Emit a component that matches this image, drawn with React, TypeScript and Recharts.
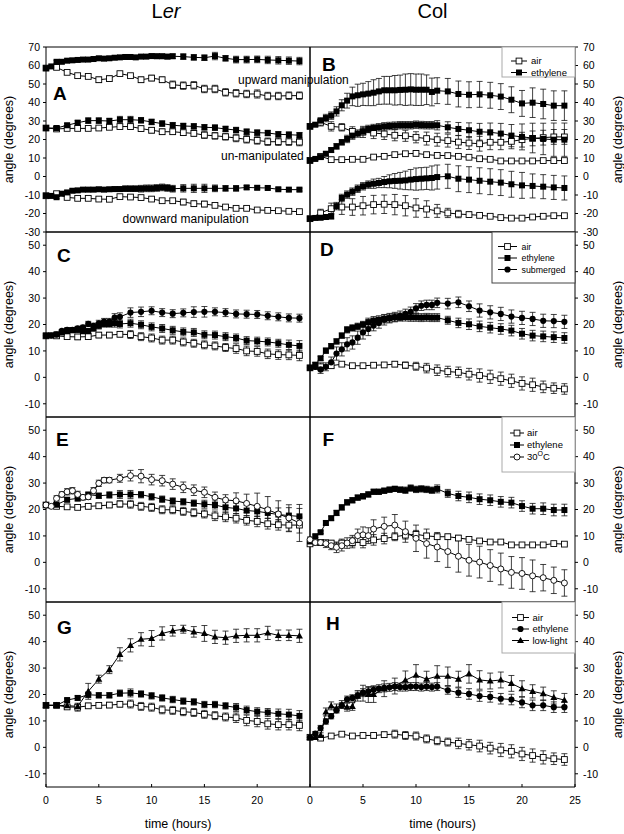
import React from 'react';
import { LineChart, Line, XAxis, YAxis, ErrorBar, ReferenceArea } from 'recharts';

// sampling times (hours)
const HOURS = [0, 1, 2, 3, 4, 5, 6, 7, 8, 9, 10, 11, 12, 13, 14, 15, 16, 17, 18, 19, 20, 21, 22, 23, 24];
const HALF12 = [0, 0.5, 1, 1.5, 2, 2.5, 3, 3.5, 4, 4.5, 5, 5.5, 6, 6.5, 7, 7.5, 8, 8.5, 9, 9.5, 10, 10.5, 11, 11.5, 12,
  13, 14, 15, 16, 17, 18, 19, 20, 21, 22, 23, 24];
const HALF7 = [0, 0.5, 1, 1.5, 2, 2.5, 3, 3.5, 4, 4.5, 5, 5.5, 6, 6.5, 7,
  8, 9, 10, 11, 12, 13, 14, 15, 16, 17, 18, 19, 20, 21, 22, 23, 24];
const HALF6 = [0, 0.5, 1, 1.5, 2, 2.5, 3, 3.5, 4, 4.5, 5, 5.5, 6,
  7, 8, 9, 10, 11, 12, 13, 14, 15, 16, 17, 18, 19, 20, 21, 22, 23, 24];

// A – Ler, manipulated
const A_UP_AIR = [58.6, 59, 56.3, 54.5, 54.1, 52.3, 52.9, 55.6, 54.5, 52.3, 53.2, 52.3, 49.6, 49.1, 49.3, 47.3, 47.3, 45.5, 45, 44.6, 44.6, 43.5, 43.5, 43.7, 43.7];
const A_UP_AIR_E = [0.8, 0.8, 1, 1, 1.2, 1.5, 1.5, 1, 0.8, 1.5, 1.5, 1.5, 2, 2, 2, 2, 2, 2, 2, 2, 2.2, 2, 2, 2, 2];
const A_UP_ETH = [58.6, 59.5, 62, 62, 62.6, 62.8, 63, 63.2, 63.2, 63.5, 63.9, 63.7, 63.9, 64.2, 64.4, 64.6, 64.6, 64.4, 64.8, 64.8, 65.1, 65, 65, 64.8, 65,
  64.8, 64.4, 64.2, 65.1, 63.9, 63.2, 63.2, 63.3, 63, 62.8, 62.6, 62.4];
const A_UP_ETH_E = [0.5, 0.5, 0.8, 0.8, 0.8, 0.8, 0.8, 0.8, 0.8, 0.8, 0.8, 0.8, 0.8, 0.8, 0.8, 0.8, 0.8, 0.8, 1, 1, 1, 1.2, 1.2, 1.2, 1.2,
  1.5, 1.5, 1.5, 2, 1.5, 1.8, 1.8, 1.8, 2, 2, 2, 2];
const A_UN_AIR = [26.2, 25.7, 26, 26, 26, 26.2, 26.6, 27, 27, 25.9, 25, 24.2, 24.2, 23.7, 23.3, 22.4, 22, 21.5, 20.8, 20.1, 19.5, 18.8, 18.8, 18.8, 18.6];
const A_UN_AIR_E = [0.8, 0.8, 1, 1, 1, 1, 1, 1.2, 1.5, 1.5, 1.5, 1.5, 1.5, 1.5, 1.5, 1.8, 1.8, 1.8, 2, 2, 2, 2, 2, 2, 2];
const A_UN_ETH = [26.2, 26.2, 27.7, 29.1, 30.2, 30.2, 30, 30.7, 30.7, 30.4, 29.5, 28.6, 27.7, 27.3, 27.1, 26.6, 26.4, 25.7, 25.1, 24.2, 23.7, 23.5, 22.8, 22.6, 22.3];
const A_UN_ETH_E = [0.8, 0.8, 1, 1.2, 1.5, 1.5, 1.5, 1.8, 1.8, 1.5, 1.5, 1.5, 1.5, 1.5, 1.5, 1.5, 1.5, 1.5, 1.5, 1.5, 1.5, 1.5, 1.5, 1.5, 1.5];
const A_DN_AIR = [-10.4, -9.3, -11.3, -11.8, -11.8, -12.2, -12.3, -10.9, -11.1, -11.4, -12.2, -13.1, -13.1, -13.8, -14.7, -14.9, -15.6, -16.5, -17.2, -17.2, -18.1, -18.3, -18.5, -18.8, -19];
const A_DN_AIR_E = [0.5, 0.8, 1, 1, 1, 1, 1, 1, 1, 1, 1.2, 1.2, 1.2, 1.5, 1.5, 1.5, 1.2, 1, 1, 1, 0.8, 0.8, 0.8, 0.8, 0.8];
const A_DN_ETH = [-10.4, -10.5, -11.2, -9.3, -8.6, -7.7, -7.5, -7.1, -7.1, -7.1, -6.9, -7.1, -6.9, -6.8, -6.8, -6.6, -6.6, -6.6, -6.6, -6.4, -6.4, -6.2, -5.9, -6.2, -6.6,
  -6.4, -6.4, -6.4, -6.4, -6.4, -6.4, -5.9, -6.1, -6.2, -6.9, -7.1, -7.1];
const A_DN_ETH_E = [0.5, 0.5, 0.8, 1, 1, 1, 1, 1, 1, 1, 1, 1, 1, 1.2, 1.2, 1.5, 1.5, 1.5, 1.8, 1.8, 1.8, 1.8, 1.8, 1.8, 1.8,
  2, 2.2, 2.2, 1.8, 1.5, 1.5, 1, 1, 1, 0.8, 0.8, 0.8];

// B – Col, manipulated
const B_UP_AIR = [27.1, 29.3, 27.1, 26.6, 24.4, 24.1, 23.5, 23, 22.3, 22, 21.2, 20.5, 19.9, 19.4, 18.6, 18.1, 17.7, 18.5, 18.5, 19, 19.9, 20.6, 21, 21.4, 21.4];
const B_UP_AIR_E = [1, 2, 2.5, 2, 2.5, 3, 3, 3, 3, 3, 3, 3.5, 3.5, 3.5, 3.5, 3.5, 4, 4, 4, 4, 4, 4, 4, 4, 4];
const B_UP_ETH = [27.1, 28, 30.2, 31.6, 32.9, 35.2, 38.5, 41, 43.3, 43.9, 44.4, 44.8, 45.3, 46, 46.6, 46.6, 46.6, 46.8, 46.9, 47.1, 46.9, 46.9, 46.9, 45.7, 46.4,
  46, 44.6, 44.2, 44.4, 43.9, 43.2, 41.5, 39.5, 39.9, 39.2, 38.3, 38.3];
const B_UP_ETH_E = [1, 1, 1.5, 2, 2, 2.5, 3, 4, 5, 6, 6, 6.5, 7, 7, 7.5, 7.5, 8, 8, 8.5, 8.5, 8.5, 8.5, 8, 7.5, 7,
  7, 7, 7, 7, 7, 7, 7, 7, 8, 8, 8, 8];
const B_UN_AIR = [8.7, 10.9, 9.1, 9.1, 9.3, 9.3, 10.5, 10.9, 11.8, 12.3, 12.5, 11.8, 11.4, 11.3, 10.9, 10.4, 9.6, 9.3, 8.4, 8.4, 8.4, 8.4, 8.6, 8.6, 8.6];
const B_UN_AIR_E = [0.5, 1, 0.8, 0.8, 0.8, 0.8, 1, 1, 1.2, 1.2, 1.5, 1.2, 1.2, 1.2, 1.2, 1, 1, 1, 1, 1, 1, 1, 1, 1, 1];
const B_UN_ETH = [8.6, 9.5, 10.5, 12.3, 14.3, 16.3, 18.5, 20.3, 22.1, 23.2, 24.4, 25.7, 26.2, 26.6, 27.1, 27.3, 27.5, 27.7, 27.7, 27.7, 28, 27.8, 27.7, 27.7, 27.7,
  26.6, 25.7, 25, 24.2, 23.9, 23.2, 22.1, 21.4, 20.8, 20.3, 19.9, 19.9];
const B_UN_ETH_E = [0.5, 0.8, 1, 1, 1.2, 1.5, 1.5, 2, 2, 2, 2, 2, 2, 2, 2, 2, 2, 2, 2, 2, 2, 2, 2, 2, 2.5,
  3, 3.5, 4, 4.5, 5, 5.5, 6, 7, 8, 8.5, 9, 9];
const B_DN_AIR = [-22.8, -19.7, -17.4, -16.5, -16.5, -15.8, -15.2, -15, -15.2, -15.8, -17, -17.6, -18.6, -19.7, -20.3, -20.6, -21, -21.5, -22.2, -22.5, -22.5, -21.9, -21.5, -21.2, -21.2];
const B_DN_AIR_E = [0.5, 2, 3, 4, 4.5, 5, 5, 5, 5.5, 5.5, 5, 4.5, 3.5, 2.5, 2, 1.5, 1, 0.8, 0.8, 0.8, 0.8, 0.8, 0.8, 0.8, 0.8];
const B_DN_ETH = [-22.8, -22.4, -22.3, -21.9, -21.5, -16, -11.6, -9.8, -8.2, -6.6, -5.3, -4.4, -3.9, -3.5, -3, -2.6, -2.4, -2.3, -2.1, -1.7, -1.4, -1.2, -1, -0.8, -0.3,
  0.1, -1.2, -1.7, -2.3, -2.8, -3.3, -4.2, -4.8, -5.1, -5.5, -5.9, -6.2];
const B_DN_ETH_E = [0.5, 0.8, 1, 1, 1.5, 2, 2, 2, 2, 2, 2, 2, 2.5, 2.5, 3, 3.5, 4, 4.5, 5, 5.5, 6, 6, 6, 6.5, 6.5,
  6.5, 7, 7, 7, 7, 7, 7, 7, 6.5, 6.5, 6.5, 6.5];

// C – Ler, submergence
const C_AIR = [15.7, 15.7, 15.4, 15.3, 15.4, 16, 16, 16.3, 16.2, 15.4, 14.9, 14.1, 14.1, 13.4, 12.9, 12.3, 11.9, 11.3, 10.9, 10, 9.8, 8.9, 8.6, 8.5, 8.3];
const C_AIR_E = [0.3, 0.5, 0.8, 1, 1, 1, 1, 1, 1.5, 1.5, 1.5, 1.5, 1.5, 1.5, 1.5, 1.5, 1.5, 1.5, 1.8, 1.8, 1.8, 1.8, 1.8, 1.8, 2];
const C_ETH = [15.8, 15.9, 16.3, 17, 17.5, 17.8, 18, 17.5, 17.5, 18.5, 19.5, 20.2, 20.2, 20.5, 20.2,
  20.5, 19.9, 19.1, 18.5, 17.8, 17.2, 17, 16.1, 16, 15.4, 14.9, 13.9, 13.7, 13.4, 12.9, 12.3, 11.9];
const C_ETH_E = [0.3, 0.3, 0.5, 0.5, 0.8, 0.8, 1, 1, 1, 1, 1.2, 1.2, 1.2, 1.5, 1.5,
  1.5, 1.5, 1.5, 1.5, 1.5, 1.5, 1.5, 1.5, 1.5, 1.5, 1.5, 1.5, 1.5, 1.5, 1.5, 1.8, 2];
const C_SUB = [15.7, 15.8, 16.2, 17.6, 18, 18, 18.5, 18.9, 20.2, 19.5, 20.4, 21.1, 21.1, 22.6, 22.9,
  24.5, 24.8, 25.2, 24.5, 24.1, 24.4, 24.7, 24.8, 24.8, 24.5, 24, 23.9, 23.8, 23.3, 22.9, 22.5, 22.4];
const C_SUB_E = [0.3, 0.3, 0.5, 0.5, 0.8, 0.8, 0.8, 0.8, 1, 1, 1.2, 1.2, 1.2, 1.5, 1.5,
  1.8, 1.8, 1.5, 1.5, 1.5, 1.5, 2, 2, 1.5, 1.5, 1.5, 1.5, 1.5, 1.5, 1.5, 1.5, 1.5];

// D – Col, submergence
const D_AIR = [3.6, 4, 4.4, 5, 4.4, 4.4, 4.6, 4.7, 5, 4.6, 4.2, 3.5, 2.7, 2.2, 1.9, 1.2, 0.7, 0.2, -0.5, -1.3, -2.3, -2.8, -3.6, -4.1, -4.4];
const D_AIR_E = [0.5, 1.5, 1, 0.5, 0.5, 0.8, 0.8, 0.8, 1, 1.2, 1.5, 1.8, 2, 2, 2, 2.2, 2.5, 2.5, 2.5, 2.5, 2.5, 2.5, 2.2, 2, 2];
const D_ETH = [3.6, 4.8, 7.2, 10.1, 11.8, 13.6, 15.8, 18, 18.7, 19.3, 20, 20.9, 21.5, 21.8, 22.1, 22.4, 22.7, 22.8, 22.8, 22.7, 22.7, 22.6, 22.7, 22.6, 22.6,
  21.6, 20.6, 20.1, 19.3, 18.8, 18.3, 17.7, 16.5, 15.8, 15.5, 15.2, 14.9];
const D_ETH_E = [0.5, 0.8, 0.8, 1, 1, 1, 1, 1.2, 1.2, 1.2, 1.2, 1.5, 1.5, 1.5, 1.5, 1.5, 1.5, 1.5, 1.5, 1.5, 1.5, 1.5, 1.5, 1.5, 1.5,
  1.5, 1.8, 2, 2, 2, 2, 2, 2, 2, 2, 2, 2];
const D_SUB = [3.6, 4, 3, 4, 5.7, 9, 10.6, 12.5, 13.2, 15, 17, 18.3, 19.6, 20.6, 21.8, 22.4, 22.8, 23.3, 24, 24.8, 26.1, 27.1, 27.4, 27.4, 28.2,
  27.9, 28.4, 26.9, 25.3, 24.6, 24, 23, 22.5, 22.1, 21.4, 21.3, 21];
const D_SUB_E = [0.5, 1, 1.5, 1.5, 2, 2.5, 2.5, 2.5, 2.5, 2.5, 2.5, 2.5, 2, 2, 2, 1.8, 1.8, 1.8, 1.8, 1.8, 1.8, 1.8, 1.8, 1.8, 1.8,
  2, 2, 2, 2.5, 2.5, 2.5, 2.5, 2.5, 2.5, 2.5, 2.5, 2.5];

// E – Ler, 30 °C
const E_AIR = [21.7, 21.2, 21, 20.8, 21.2, 21.4, 21.7, 22.1, 22, 21.2, 20.8, 19.9, 19.9, 19.3, 18.8, 18.3, 17.6, 17.2, 16.7, 15.9, 15.5, 14.6, 14.2, 14.1, 14.1];
const E_AIR_E = [0.5, 0.5, 0.8, 0.8, 1, 1, 1, 1.2, 1.5, 1.5, 1.5, 1.5, 1.5, 1.5, 1.5, 1.5, 1.8, 1.8, 1.8, 1.8, 2, 2, 2, 2.5, 3];
const E_ETH = [21.7, 21.8, 23.7, 24.2, 25.6, 25.2, 25.5, 25.7, 25.7, 25.6, 24.8, 23.9, 23.2, 22.9, 22.4, 22, 21.7, 20.8, 20.4, 19.6, 19.3, 18.7, 18.1, 17.7, 17.4];
const E_ETH_E = [0.5, 0.5, 0.8, 1, 1, 1, 1.2, 1.5, 1.5, 1.2, 1.2, 1.2, 1.2, 1.2, 1.2, 1.5, 1.5, 1.8, 2, 2, 2, 2, 2.5, 3, 3];
const E_30C = [21.7, 21.2, 24.2, 25.7, 26.7, 27.1, 25.7, 24.6, 24.8, 27.1, 29.9, 31.1, 31.1,
  31.8, 32.8, 32.6, 31.3, 30.9, 29.6, 28.4, 27.3, 26.5, 24.6, 23.6, 23.3, 22.3, 21.2, 19.9, 18.3, 16.8, 14.9];
const E_30C_E = [0.5, 0.5, 1, 1, 1.2, 1.2, 1.2, 1, 1, 1.2, 1.2, 1, 1,
  1.5, 2, 2.5, 2, 2, 2, 2, 2, 2, 2, 2, 3, 3.5, 5, 5, 5, 5, 7];

// F – Col, 30 °C
const F_AIR = [7, 7.5, 7.3, 7.3, 7.5, 7.5, 8.5, 9, 9.7, 10.3, 10.6, 10, 9.7, 9.7, 9.2, 8.7, 8.1, 7.7, 7.7, 6.6, 6.6, 6.6, 6.6, 7.1, 6.9];
const F_AIR_E = [0.5, 0.8, 1, 1.5, 2, 2, 2, 2, 1.5, 1.5, 1.5, 1, 1, 1, 1, 0.8, 0.8, 0.8, 0.8, 0.5, 0.5, 0.5, 0.5, 0.5, 0.5];
const F_ETH = [7.9, 9.9, 11.4, 14.9, 16.7, 18.7, 20.8, 22.7, 23.5, 24.5, 25, 25.7, 26.7, 26.7, 27.1, 27.5, 27.8, 27.5, 27.3, 28.1, 27.6, 27.8, 27.6, 27.3, 27.8,
  26.1, 25.1, 24.6, 23.9, 23.5, 22.9, 22.6, 21.3, 20.3, 20.3, 19.8, 19.8];
const F_ETH_E = [0.5, 0.5, 0.5, 0.8, 0.8, 1, 1, 1, 1, 1, 1, 1, 1, 1, 1, 1, 1, 1, 1.2, 1.2, 1.2, 1.2, 1.2, 1.2, 1.5,
  1.5, 1.8, 2, 2, 2, 2, 2, 2, 2, 2.2, 2.2, 2.2];
const F_30C = [8.6, 7.5, 7.5, 7.1, 6.3, 5.7, 6.3, 7.3, 8.2, 10.1, 10.4, 10.1, 12.6,
  13.6, 14.1, 11.6, 9.1, 7.1, 5.8, 4.1, 2.3, 0.8, 0.1, -1.2, -2.5, -3.8, -4.2, -5.1, -5.8, -6.8, -7.8];
const F_30C_E = [1, 1, 1, 1.5, 1.5, 2, 2, 2, 2, 2.5, 3, 3, 3.5,
  3.5, 4, 4, 5, 5.5, 5.5, 6, 6, 6, 6, 6, 6, 6, 6, 6, 5, 5, 5];

// G – Ler, low light
const G_AIR = [15.9, 15.9, 15.3, 15.2, 15.7, 15.9, 16, 16.3, 16.4, 15.5, 15.2, 14.2, 14, 13.5, 13.2, 12.5, 12, 11.5, 11.2, 10.2, 9.8, 8.9, 8.6, 8.6, 8.3];
const G_AIR_E = [0.3, 0.5, 0.8, 1.5, 1, 1, 1, 1, 1.5, 1.5, 1.5, 1.5, 1.5, 1.5, 1.5, 1.5, 1.5, 1.5, 1.8, 2, 2, 2, 2, 2, 2];
const G_ETH = [15.9, 15.9, 17.9, 18.7, 19.9, 19.7, 19.7, 20.5, 20.6, 20.2, 19.5, 18.7, 18.1, 17.5, 17.2, 16.2, 16.2, 15.7, 15.1, 14.1, 13.5, 13.2, 12.7, 12.4, 11.9];
const G_ETH_E = [0.3, 0.5, 0.5, 0.8, 1, 1, 1, 1.2, 1.5, 1.2, 1.2, 1.2, 1.2, 1.2, 1.2, 1.2, 1.2, 1.2, 1.5, 1.5, 1.5, 1.5, 1.8, 2, 2];
const G_LOW = [15.9, 15.9, 15.8, 15.5, 21.2, 25.8, 29.4, 35.2, 38.6, 40.9, 41.2, 43.1, 44.1, 44.7, 43.7, 43.1, 41.8, 41.5, 42.2, 42.4, 42.4, 43.3, 42.4, 42.4, 42.2];
const G_LOW_E = [0.3, 0.5, 0.5, 0.8, 3, 1.5, 1.5, 2.5, 2.5, 2.5, 3, 2.5, 2, 1.5, 2, 3, 2.5, 2.5, 2.5, 2.5, 2.5, 2.5, 2, 2, 2.5];

// H – Col, low light
const H_AIR = [3.8, 3.5, 4.3, 5, 4.3, 4.5, 4.5, 4.8, 5, 4.5, 4.3, 3.2, 2.5, 2, 1.5, 1, 0.5, -0.3, -1, -1.5, -2.5, -3.1, -3.8, -4.3, -4.6];
const H_AIR_E = [0.5, 0.8, 0.8, 0.8, 0.8, 0.8, 1, 1, 1.5, 1.5, 1.5, 1.5, 1.5, 1.5, 2, 2, 2.2, 2.2, 2.5, 2.5, 2.5, 2.5, 2.5, 2.2, 2.2];
const H_ETH = [3.8, 5.2, 7.3, 9.8, 11.8, 14, 15.9, 18.2, 18.7, 19.7, 20.7, 21.2, 21.8, 22.2, 22.5, 22.7, 23, 22.8, 22.8, 23, 23, 22.8, 23, 22.8, 23,
  21.6, 20.7, 20.2, 19.4, 19.1, 18.4, 18.1, 17, 15.9, 15.9, 15.2, 15.2];
const H_ETH_E = [0.5, 0.8, 1, 1, 1, 1, 1, 1.2, 1.2, 1.2, 1.5, 1.5, 1.5, 1.5, 1.5, 1.5, 1.5, 1.5, 1.5, 1.5, 1.5, 1.5, 1.5, 1.5, 1.5,
  1.5, 1.8, 2, 2, 2, 2, 2, 2, 2, 2, 2, 2];
const H_LOW = [3.8, 3.8, 4.5, 13.4, 15.7, 14.9, 16.2, 15.2, 15.5, 19.5, 20.5, 20, 20,
  22.2, 23.2, 25.4, 27.3, 25.8, 26.9, 26.9, 25.8, 27.8, 25.5, 25.1, 25.5, 24.2, 22.2, 21.2, 20.3, 18.9, 17.9];
const H_LOW_E = [0.5, 0.5, 1, 1.5, 1.5, 1.5, 1.5, 1.5, 1.5, 2, 3, 3, 3,
  3, 3, 3.5, 4, 3, 4, 3.5, 3, 3.5, 3.5, 3, 3, 3, 3, 2.5, 2.5, 2.5, 2.5];

const TICKS_AB = [-30, -20, -10, 0, 10, 20, 30, 40, 50, 60, 70];
const TICKS_REST = [-10, 0, 10, 20, 30, 40, 50];

const FONT = '"Liberation Sans", Arial, Helvetica, sans-serif';

type Mark = 'openSq' | 'fillSq' | 'fillCirc' | 'openCirc' | 'fillTri';
interface Series { d: { t: number; v: number; e: number }[]; m: Mark }

function rows(ts: number[], vs: number[], es: number[]) {
  return ts.map((t, i) => ({ t, v: vs[i], e: es[i] }));
}

function Marker({ cx, cy, kind }: { cx: number; cy: number; kind: Mark }) {
  if (cx == null || cy == null) return null;
  switch (kind) {
    case 'openSq':
      return <rect x={cx - 2.9} y={cy - 2.9} width={5.8} height={5.8} fill="#fff" stroke="#000" strokeWidth={0.9} />;
    case 'fillSq':
      return <rect x={cx - 3} y={cy - 3} width={6} height={6} fill="#000" />;
    case 'fillCirc':
      return <circle cx={cx} cy={cy} r={3.1} fill="#000" />;
    case 'openCirc':
      return <circle cx={cx} cy={cy} r={3} fill="#fff" stroke="#000" strokeWidth={0.9} />;
    default:
      return <path d={`M${cx},${cy - 3.6}L${cx + 3.5},${cy + 2.6}L${cx - 3.5},${cy + 2.6}Z`} fill="#000" />;
  }
}

const PANEL_A: Series[] = [
  { d: rows(HOURS, A_UP_AIR, A_UP_AIR_E), m: 'openSq' },
  { d: rows(HALF12, A_UP_ETH, A_UP_ETH_E), m: 'fillSq' },
  { d: rows(HOURS, A_UN_AIR, A_UN_AIR_E), m: 'openSq' },
  { d: rows(HOURS, A_UN_ETH, A_UN_ETH_E), m: 'fillSq' },
  { d: rows(HOURS, A_DN_AIR, A_DN_AIR_E), m: 'openSq' },
  { d: rows(HALF12, A_DN_ETH, A_DN_ETH_E), m: 'fillSq' },
];
const PANEL_B: Series[] = [
  { d: rows(HOURS, B_UP_AIR, B_UP_AIR_E), m: 'openSq' },
  { d: rows(HALF12, B_UP_ETH, B_UP_ETH_E), m: 'fillSq' },
  { d: rows(HOURS, B_UN_AIR, B_UN_AIR_E), m: 'openSq' },
  { d: rows(HALF12, B_UN_ETH, B_UN_ETH_E), m: 'fillSq' },
  { d: rows(HOURS, B_DN_AIR, B_DN_AIR_E), m: 'openSq' },
  { d: rows(HALF12, B_DN_ETH, B_DN_ETH_E), m: 'fillSq' },
];
const PANEL_C: Series[] = [
  { d: rows(HOURS, C_AIR, C_AIR_E), m: 'openSq' },
  { d: rows(HALF7, C_ETH, C_ETH_E), m: 'fillSq' },
  { d: rows(HALF7, C_SUB, C_SUB_E), m: 'fillCirc' },
];
const PANEL_D: Series[] = [
  { d: rows(HOURS, D_AIR, D_AIR_E), m: 'openSq' },
  { d: rows(HALF12, D_ETH, D_ETH_E), m: 'fillSq' },
  { d: rows(HALF12, D_SUB, D_SUB_E), m: 'fillCirc' },
];
const PANEL_E: Series[] = [
  { d: rows(HOURS, E_AIR, E_AIR_E), m: 'openSq' },
  { d: rows(HOURS, E_ETH, E_ETH_E), m: 'fillSq' },
  { d: rows(HALF6, E_30C, E_30C_E), m: 'openCirc' },
];
const PANEL_F: Series[] = [
  { d: rows(HOURS, F_AIR, F_AIR_E), m: 'openSq' },
  { d: rows(HALF12, F_ETH, F_ETH_E), m: 'fillSq' },
  { d: rows(HALF6, F_30C, F_30C_E), m: 'openCirc' },
];
const PANEL_G: Series[] = [
  { d: rows(HOURS, G_AIR, G_AIR_E), m: 'openSq' },
  { d: rows(HOURS, G_ETH, G_ETH_E), m: 'fillSq' },
  { d: rows(HOURS, G_LOW, G_LOW_E), m: 'fillTri' },
];
const PANEL_H: Series[] = [
  { d: rows(HOURS, H_AIR, H_AIR_E), m: 'openSq' },
  { d: rows(HALF12, H_ETH, H_ETH_E), m: 'fillCirc' },
  { d: rows(HALF6, H_LOW, H_LOW_E), m: 'fillTri' },
];

interface PanelProps {
  side: 'left' | 'right';
  top: number;
  domain: [number, number];
  ticks: number[];
  series: Series[];
  bottom?: boolean;
}

function Panel({ side, top, domain, ticks, series, bottom }: PanelProps) {
  const left = side === 'left';
  const w = left ? 320 : 324;
  const h = 185 + 10 + (bottom ? 30 : 10);
  const tickStyle = { fontSize: 10.5, fill: '#000' };
  return (
    <div style={{ position: 'absolute', left: left ? 0 : 300, top: top - 10, width: w, height: h }}>
      <LineChart
        width={w}
        height={h}
        margin={{ top: 10, bottom: bottom ? 0 : 10, left: left ? 0 : 10, right: left ? 10 : 0 }}
      >
        <XAxis
          dataKey="t"
          type="number"
          domain={[0, 25]}
          ticks={left ? [0, 5, 10, 15, 20] : [0, 5, 10, 15, 20, 25]}
          height={bottom ? 30 : 0}
          tick={bottom ? tickStyle : false}
          tickSize={-3}
          tickMargin={13}
          axisLine={false}
          tickLine={{ stroke: '#000' }}
          interval={0}
        />
        <YAxis
          type="number"
          domain={domain}
          ticks={ticks}
          orientation={left ? 'left' : 'right'}
          width={left ? 46 : 49}
          tick={tickStyle}
          tickSize={3}
          tickMargin={left ? 3 : 5}
          axisLine={false}
          tickLine={{ stroke: '#000' }}
          interval={0}
        />
        <ReferenceArea x1={0} x2={25} y1={domain[0]} y2={domain[1]} fill="none" fillOpacity={0} stroke="#000" strokeWidth={1} />
        {series.map((s, i) => (
          <Line
            key={i}
            data={s.d}
            dataKey="v"
            type="linear"
            stroke="#000"
            strokeWidth={1}
            isAnimationActive={false}
            activeDot={false}
            dot={(p: any) => <Marker key={`${i}-${p.index}`} cx={p.cx} cy={p.cy} kind={s.m} />}
          >
            <ErrorBar dataKey="e" direction="y" width={3} stroke="#111" strokeWidth={0.8} isAnimationActive={false} />
          </Line>
        ))}
      </LineChart>
    </div>
  );
}

interface LegendSpec {
  x: number; y: number; w: number; h: number;
  rowsY: number[]; sx1: number; sx2: number; tx: number; fs: number; border: string;
  items: { m: Mark; label: React.ReactNode }[];
}

const LEGENDS: LegendSpec[] = [
  { x: 502, y: 47, w: 73, h: 30, rowsY: [61, 72.5], sx1: 511, sx2: 527, tx: 531, fs: 9.5, border: '#aaa',
    items: [{ m: 'openSq', label: 'air' }, { m: 'fillSq', label: 'ethylene' }] },
  { x: 492, y: 232, w: 83, h: 51, rowsY: [246.5, 258, 269.5], sx1: 498, sx2: 517, tx: 521.5, fs: 8.8, border: '#444',
    items: [{ m: 'openSq', label: 'air' }, { m: 'fillSq', label: 'ethylene' }, { m: 'fillCirc', label: 'submerged' }] },
  { x: 502, y: 417, w: 73, h: 55, rowsY: [433, 445, 457], sx1: 510, sx2: 524, tx: 527, fs: 9.5, border: '#aaa',
    items: [{ m: 'openSq', label: 'air' }, { m: 'fillSq', label: 'ethylene' },
      { m: 'openCirc', label: <>30<tspan dy={-4} fontSize={7}>O</tspan><tspan dy={4}>C</tspan></> }] },
  { x: 502, y: 602, w: 73, h: 51, rowsY: [617.5, 629, 640.5], sx1: 512, sx2: 529, tx: 532.5, fs: 9.5, border: '#aaa',
    items: [{ m: 'openSq', label: 'air' }, { m: 'fillCirc', label: 'ethylene' }, { m: 'fillTri', label: 'low-light' }] },
];

const LETTERS = [
  { t: 'A', x: 53, y: 100 }, { t: 'B', x: 322, y: 70.5 },
  { t: 'C', x: 57, y: 261.5 }, { t: 'D', x: 320, y: 256 },
  { t: 'E', x: 56, y: 445.5 }, { t: 'F', x: 322.5, y: 446 },
  { t: 'G', x: 57, y: 634 }, { t: 'H', x: 326, y: 630 },
];

const PANEL_CENTERS = [139.5, 324.5, 509.5, 694.5];

export default function App() {
  return (
    <div style={{ position: 'absolute', left: 0, top: 0, width: 624, height: 834, background: '#fff', fontFamily: FONT }}>
      <Panel side="left" top={47} domain={[-30, 70]} ticks={TICKS_AB} series={PANEL_A} />
      <Panel side="right" top={47} domain={[-30, 70]} ticks={TICKS_AB} series={PANEL_B} />
      <Panel side="left" top={232} domain={[-15, 55]} ticks={TICKS_REST} series={PANEL_C} />
      <Panel side="right" top={232} domain={[-15, 55]} ticks={TICKS_REST} series={PANEL_D} />
      <Panel side="left" top={417} domain={[-15, 55]} ticks={TICKS_REST} series={PANEL_E} />
      <Panel side="right" top={417} domain={[-15, 55]} ticks={TICKS_REST} series={PANEL_F} />
      <Panel side="left" top={602} domain={[-15, 55]} ticks={TICKS_REST} series={PANEL_G} bottom />
      <Panel side="right" top={602} domain={[-15, 55]} ticks={TICKS_REST} series={PANEL_H} bottom />

      <svg width={624} height={834} style={{ position: 'absolute', left: 0, top: 0, pointerEvents: 'none' }} fontFamily={FONT}>
        <text x={166} y={18} textAnchor="middle" fontSize={20}>L<tspan fontStyle="italic">er</tspan></text>
        <text x={432.5} y={18} textAnchor="middle" fontSize={20}>Col</text>

        {PANEL_CENTERS.map((c) => (
          <g key={c}>
            <text transform={`translate(12.5,${c}) rotate(-90)`} textAnchor="middle" fontSize={12.5}>angle (degrees)</text>
            <text transform={`translate(622,${c}) rotate(-90)`} textAnchor="middle" fontSize={12.5}>angle (degrees)</text>
          </g>
        ))}
        <text x={178} y={828} textAnchor="middle" fontSize={12.5}>time (hours)</text>
        <text x={442.5} y={828} textAnchor="middle" fontSize={12.5}>time (hours)</text>

        {LETTERS.map((l) => (
          <text key={l.t} x={l.x} y={l.y} fontSize={19} fontWeight="bold">{l.t}</text>
        ))}

        <text x={238} y={84} fontSize={12}>upward manipulation</text>
        <text x={221} y={160} fontSize={12}>un-manipulated</text>
        <text x={122.5} y={222.5} fontSize={12}>downward manipulation</text>

        {LEGENDS.map((lg, k) => (
          <g key={k}>
            <rect x={lg.x} y={lg.y} width={lg.w} height={lg.h} fill="#fff" stroke={lg.border} strokeWidth={1} />
            {lg.items.map((it, j) => (
              <g key={j}>
                <line x1={lg.sx1} x2={lg.sx2} y1={lg.rowsY[j]} y2={lg.rowsY[j]} stroke="#000" strokeWidth={1} />
                <Marker cx={(lg.sx1 + lg.sx2) / 2} cy={lg.rowsY[j]} kind={it.m} />
                <text x={lg.tx} y={lg.rowsY[j] + lg.fs * 0.35} fontSize={lg.fs}>{it.label}</text>
              </g>
            ))}
          </g>
        ))}
      </svg>
    </div>
  );
}
